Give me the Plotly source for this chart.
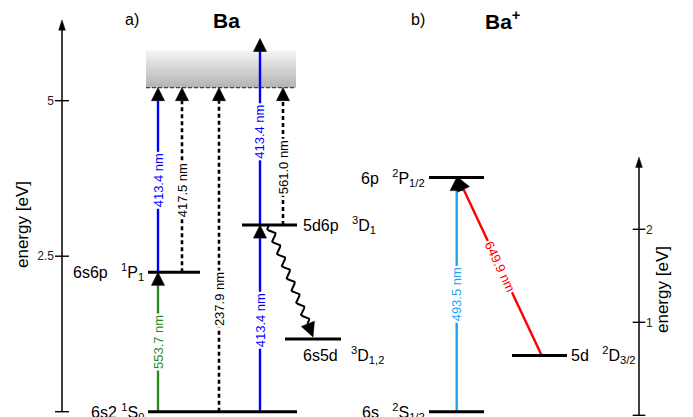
import numpy as np
import plotly.graph_objects as go

W, H = 693, 417

# ------------------------------------------------------------------ data
# Ba (neutral atom) energy levels, eV
ba_level_names = ["6s2 <sup>1</sup>S<sub>0</sub>", "6s6p&nbsp;&nbsp; <sup>1</sup>P<sub>1</sub>",
                  "5d6p&nbsp;&nbsp; <sup>3</sup>D<sub>1</sub>", "6s5d&nbsp;&nbsp; <sup>3</sup>D<sub>1,2</sub>"]
ba_level_ev = [0.0, 2.24, 3.00, 1.17]
ba_ionization_ev = 5.21
ba_continuum_top_ev = 5.81

# Ba transitions
ba_tr_labels = ["553.7 nm", "413.4 nm", "417.5 nm", "237.9 nm", "413.4 nm", "413.4 nm", "561.0 nm"]
ba_tr_from_ev = [0.0, 2.24, 2.24, 0.0, 0.0, 3.00, 3.00]
ba_tr_to_ev = [2.24, 5.21, 5.21, 5.21, 3.00, 6.00, 5.21]
ba_tr_label_ev = [1.12, 3.72, 3.56, 1.81, 1.47, 4.50, 3.93]
ba_tr_kind = ["green", "blue", "dash", "dash", "blue", "blue", "dash"]

# Ba+ (ion) energy levels, eV
bap_level_names = ["6s&nbsp;&nbsp; <sup>2</sup>S<sub>1/2</sub>", "6p&nbsp;&nbsp; <sup>2</sup>P<sub>1/2</sub>",
                   "5d&nbsp;&nbsp; <sup>2</sup>D<sub>3/2</sub>"]
bap_level_ev = [0.0, 2.512, 0.604]
bap_tr_labels = ["493.5 nm", "649.9 nm"]
bap_tr_from_ev = [0.0, 0.604]
bap_tr_to_ev = [2.512, 2.512]
bap_tr_kind = ["lightblue", "red"]

# energy axes
ba_axis_ticks = [0, 2.5, 5]
ba_axis_ticklabels = ["", "2.5", "5"]
ba_axis_top_ev = 6.30
bap_axis_ticks = [0, 1, 2]
bap_axis_ticklabels = ["", "1", "2"]
bap_axis_top_ev = 2.777

# ------------------------------------------------------------------ layout / style
FONT = "Liberation Sans, Arial, sans-serif"
COL = {"green": "#2a8a1f", "blue": "#0000ff", "dash": "#000000",
       "lightblue": "#1ea2f2", "red": "#ff0000"}
HEAD = dict(symbol="arrow-up", size=[0, 13], color="black", angleref="previous", opacity=1,
            line=dict(width=0.6, color="black"))

# pixel scale of each vertical axis (row of 0 eV, px per eV)
BA_Y0, BA_K = 411.7, 62.2
BAP_Y0, BAP_K = 411.7, 93.2
AX3_Y0, AX3_K = 415.3, 93.0


def yrange(y0, k):
    return [-(H - y0) / k, y0 / k]


def e2px(e, y0, k):
    return y0 - e * k


def px2e(p, y0, k):
    return (y0 - p) / k


# horizontal layout positions (px)
ba_level_x = [(148, 297), (148, 200), (242, 297), (285, 341)]
ba_label_pos = [("right", 146, 0), ("right", 146, 0), ("left", 301, 0), ("left", 301, 16)]
ba_tr_x = [158, 158, 182, 219, 260, 260, 283]
band_x = (146, 296)
bap_level_x = [(429, 484), (429, 484), (512, 567)]
bap_label_pos = [("right", 427, 0), ("right", 427, 0), ("left", 569, 0)]
bap_tr_x = [(456.7, 456.7), (541.7, 458.0)]
BA_AXIS_X, BAP_AXIS_X = 62, 639

fig = go.Figure()

# ionization continuum (gradient band)
fig.add_trace(go.Scatter(
    x=[band_x[0], band_x[1], band_x[1], band_x[0], band_x[0]],
    y=[ba_ionization_ev, ba_ionization_ev, ba_continuum_top_ev, ba_continuum_top_ev, ba_ionization_ev],
    mode="lines", fill="toself", line=dict(width=0),
    fillgradient=dict(type="vertical", colorscale=[[0, "#b2b2b2"], [1, "#f6f6f6"]]),
    yaxis="y", hoverinfo="skip"))
fig.add_trace(go.Scatter(
    x=list(band_x), y=[ba_ionization_ev] * 2, mode="lines",
    line=dict(color="#444444", width=1.2, dash="4px,2px"), yaxis="y", hoverinfo="skip"))

annotations = []

# Ba transitions
for lab, e0, e1, el, kind, x in zip(ba_tr_labels, ba_tr_from_ev, ba_tr_to_ev,
                                    ba_tr_label_ev, ba_tr_kind, ba_tr_x):
    dash = "4px,3px" if kind == "dash" else "solid"
    fig.add_trace(go.Scatter(
        x=[x, x], y=[e0, e1], mode="lines+markers", yaxis="y",
        line=dict(color=COL[kind], width=2.6 if kind == "dash" else 2.4, dash=dash),
        marker=HEAD, hoverinfo="skip"))
    annotations.append(dict(x=x, y=el, xref="x", yref="y", text=lab, showarrow=False,
                            textangle=-90, bgcolor="white", borderpad=1,
                            font=dict(size=13, color=COL[kind], family=FONT)))

# Ba+ transitions
for lab, e0, e1, kind, (xa, xb) in zip(bap_tr_labels, bap_tr_from_ev, bap_tr_to_ev,
                                       bap_tr_kind, bap_tr_x):
    fig.add_trace(go.Scatter(
        x=[xa, xb], y=[e0, e1], mode="lines+markers", yaxis="y2",
        line=dict(color=COL[kind], width=2.4), marker=HEAD, hoverinfo="skip"))
    dxp = xb - xa
    dyp = e2px(e1, BAP_Y0, BAP_K) - e2px(e0, BAP_Y0, BAP_K)
    ang = np.degrees(np.arctan2(dyp, dxp))
    if ang < -90:
        ang += 180
    if ang > 90:
        ang -= 180
    annotations.append(dict(x=(xa + xb) / 2, y=(e0 + e1) / 2, xref="x", yref="y2", text=lab,
                            showarrow=False, textangle=ang, bgcolor="white", borderpad=1,
                            font=dict(size=13, color=COL[kind], family=FONT)))

# wavy decay 5d6p -> 6s5d
p0 = np.array([269.0, e2px(ba_level_ev[2], BA_Y0, BA_K)])
p1 = np.array([313.0, e2px(ba_level_ev[3], BA_Y0, BA_K) - 2])
d = p1 - p0
L = np.hypot(*d)
u = d / L
nrm = np.array([-u[1], u[0]])
head = 15.0
Lw = L - head
nper = 8
t = np.linspace(0, Lw, 400)
off = 3.0 * np.sin(2 * np.pi * nper * t / Lw)
pts = p0[None, :] + t[:, None] * u[None, :] + off[:, None] * nrm[None, :]
fig.add_trace(go.Scatter(
    x=pts[:, 0], y=px2e(pts[:, 1], BA_Y0, BA_K), mode="lines", yaxis="y",
    line=dict(color="black", width=2), hoverinfo="skip"))
base = p0 + Lw * u
fig.add_trace(go.Scatter(
    x=[base[0], p1[0]], y=[px2e(base[1], BA_Y0, BA_K), px2e(p1[1], BA_Y0, BA_K)],
    mode="lines+markers", yaxis="y", line=dict(color="black", width=2),
    marker=dict(HEAD, size=[0, 14]), hoverinfo="skip"))

# Ba levels
for name, e, (xa, xb), (anc, lx, dy) in zip(ba_level_names, ba_level_ev, ba_level_x, ba_label_pos):
    fig.add_trace(go.Scatter(x=[xa, xb], y=[e, e], mode="lines", yaxis="y",
                             line=dict(color="black", width=3), hoverinfo="skip"))
    annotations.append(dict(x=lx, y=px2e(e2px(e, BA_Y0, BA_K) + dy, BA_Y0, BA_K),
                            xref="x", yref="y", text=name, showarrow=False, xanchor=anc,
                            font=dict(size=16, color="black", family=FONT)))

# Ba+ levels
for name, e, (xa, xb), (anc, lx, dy) in zip(bap_level_names, bap_level_ev, bap_level_x, bap_label_pos):
    fig.add_trace(go.Scatter(x=[xa, xb], y=[e, e], mode="lines", yaxis="y2",
                             line=dict(color="black", width=3), hoverinfo="skip"))
    annotations.append(dict(x=lx, y=e, xref="x", yref="y2", text=name, showarrow=False,
                            xanchor=anc, font=dict(size=16, color="black", family=FONT)))

# energy axes (arrows + crossing ticks)
AXHEAD = dict(symbol="arrow", size=[0, 11], color="black", angleref="previous", opacity=1,
              line=dict(width=0.4, color="black"))
fig.add_trace(go.Scatter(
    x=[BA_AXIS_X, BA_AXIS_X], y=[0, ba_axis_top_ev], mode="lines+markers", yaxis="y",
    line=dict(color="black", width=1.5), marker=AXHEAD, hoverinfo="skip"))
fig.add_trace(go.Scatter(
    x=[BA_AXIS_X] * len(ba_axis_ticks), y=ba_axis_ticks, mode="markers", yaxis="y",
    marker=dict(symbol="line-ew", size=10, line=dict(width=1.4, color="black")),
    hoverinfo="skip"))
fig.add_trace(go.Scatter(
    x=[BAP_AXIS_X, BAP_AXIS_X], y=[0, bap_axis_top_ev], mode="lines+markers", yaxis="y3",
    line=dict(color="black", width=1.5), marker=AXHEAD, hoverinfo="skip"))
fig.add_trace(go.Scatter(
    x=[BAP_AXIS_X] * len(bap_axis_ticks), y=bap_axis_ticks, mode="markers", yaxis="y3",
    marker=dict(symbol="line-ew", size=9, line=dict(width=1.4, color="black")),
    hoverinfo="skip"))


def paper(xp, yp):
    return dict(x=xp / W, y=1 - yp / H, xref="paper", yref="paper",
                xanchor="center", yanchor="middle", showarrow=False)


# titles and axis titles
annotations += [
    dict(**paper(132, 19), text="a)", font=dict(size=16, family=FONT, color="black")),
    dict(**paper(226, 20), text="<b>Ba</b>", font=dict(size=21, family=FONT, color="black")),
    dict(**paper(418, 19), text="b)", font=dict(size=16, family=FONT, color="black")),
    dict(**paper(502, 20), text="<b>Ba<sup>+</sup></b>", font=dict(size=21, family=FONT, color="black")),
    dict(**paper(22, 225), text="energy [eV]", textangle=-90,
         font=dict(size=17, family=FONT, color="black")),
    dict(**paper(662, 290), text="energy [eV]", textangle=-90,
         font=dict(size=17, family=FONT, color="black")),
]

axis_common = dict(showgrid=False, zeroline=False, showline=False, ticks="", fixedrange=True)
fig.update_layout(
    width=W, height=H, margin=dict(l=0, r=0, t=0, b=0),
    template="none", paper_bgcolor="white", plot_bgcolor="white", showlegend=False,
    font=dict(family=FONT, color="black"),
    xaxis=dict(range=[0, W], visible=False, domain=[0, 1], fixedrange=True),
    yaxis=dict(range=yrange(BA_Y0, BA_K), domain=[0, 1], anchor="free", position=BA_AXIS_X / W,
               side="left", tickvals=ba_axis_ticks, ticktext=ba_axis_ticklabels,
               tickfont=dict(size=12, family=FONT, color="#222222"), ticklabelstandoff=8,
               **axis_common),
    yaxis2=dict(range=yrange(BAP_Y0, BAP_K), overlaying="y", visible=False, fixedrange=True),
    yaxis3=dict(range=yrange(AX3_Y0, AX3_K), overlaying="y", anchor="free", position=BAP_AXIS_X / W,
                side="right", tickvals=bap_axis_ticks, ticktext=bap_axis_ticklabels,
                tickfont=dict(size=12, family=FONT, color="#222222"), ticklabelstandoff=6,
                **axis_common),
    annotations=annotations,
)

fig.write_html("out.html")
